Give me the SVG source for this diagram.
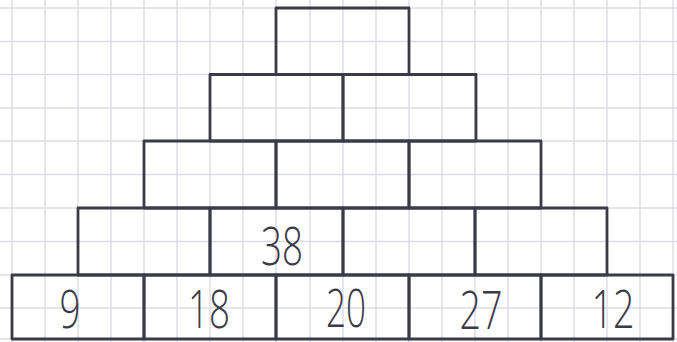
<svg xmlns="http://www.w3.org/2000/svg" width="677" height="342" viewBox="0 0 677 342">
<defs>
<style>
.grid line{stroke:#dcdce4;stroke-width:1.4}
.box rect{fill:none;stroke:#3b3b48;stroke-width:2.8;stroke-linejoin:round}
.num{font-family:"Open Sans","DejaVu Sans","Liberation Sans",sans-serif;font-weight:300;font-size:53px;fill:#3b3b48;text-anchor:middle}
</style>
</defs>
<rect x="0" y="0" width="677" height="342" fill="#ffffff"/>
<g class="grid">
<line x1="12" y1="0" x2="12" y2="342"/><line x1="45" y1="0" x2="45" y2="342"/><line x1="78" y1="0" x2="78" y2="342"/><line x1="111" y1="0" x2="111" y2="342"/><line x1="144" y1="0" x2="144" y2="342"/><line x1="177" y1="0" x2="177" y2="342"/><line x1="210" y1="0" x2="210" y2="342"/><line x1="243" y1="0" x2="243" y2="342"/><line x1="276" y1="0" x2="276" y2="342"/><line x1="310" y1="0" x2="310" y2="342"/><line x1="343" y1="0" x2="343" y2="342"/><line x1="376" y1="0" x2="376" y2="342"/><line x1="409" y1="0" x2="409" y2="342"/><line x1="442" y1="0" x2="442" y2="342"/><line x1="475" y1="0" x2="475" y2="342"/><line x1="508" y1="0" x2="508" y2="342"/><line x1="541" y1="0" x2="541" y2="342"/><line x1="574" y1="0" x2="574" y2="342"/><line x1="607" y1="0" x2="607" y2="342"/><line x1="640" y1="0" x2="640" y2="342"/><line x1="673" y1="0" x2="673" y2="342"/>
<line x1="0" y1="8" x2="677" y2="8"/><line x1="0" y1="41.5" x2="677" y2="41.5"/><line x1="0" y1="74.5" x2="677" y2="74.5"/><line x1="0" y1="108" x2="677" y2="108"/><line x1="0" y1="141" x2="677" y2="141"/><line x1="0" y1="174.5" x2="677" y2="174.5"/><line x1="0" y1="208" x2="677" y2="208"/><line x1="0" y1="241.5" x2="677" y2="241.5"/><line x1="0" y1="275" x2="677" y2="275"/><line x1="0" y1="308" x2="677" y2="308"/><line x1="0" y1="339" x2="677" y2="339"/>
</g>
<g id="r0c0" class="box"><rect x="276" y="8" width="133" height="66.5"/></g>
<g id="r1c0" class="box"><rect x="210" y="74.5" width="133" height="66.5"/></g>
<g id="r1c1" class="box"><rect x="343" y="74.5" width="133" height="66.5"/></g>
<g id="r2c0" class="box"><rect x="144" y="141" width="132" height="67"/></g>
<g id="r2c1" class="box"><rect x="276" y="141" width="133" height="67"/></g>
<g id="r2c2" class="box"><rect x="409" y="141" width="132" height="67"/></g>
<g id="r3c0" class="box"><rect x="78" y="208" width="132" height="67"/></g>
<g id="r3c1" class="box"><rect x="210" y="208" width="133" height="67"/>
<text class="num" x="282" y="265" textLength="42" lengthAdjust="spacingAndGlyphs">38</text></g>
<g id="r3c2" class="box"><rect x="343" y="208" width="132" height="67"/></g>
<g id="r3c3" class="box"><rect x="475" y="208" width="132" height="67"/></g>
<g id="r4c0" class="box"><rect x="12" y="275" width="132" height="64"/>
<text class="num" x="70" y="328" textLength="21" lengthAdjust="spacingAndGlyphs">9</text></g>
<g id="r4c1" class="box"><rect x="144" y="275" width="132" height="64"/>
<text class="num" x="209" y="328" textLength="42" lengthAdjust="spacingAndGlyphs">18</text></g>
<g id="r4c2" class="box"><rect x="276" y="275" width="133" height="64"/>
<text class="num" x="346" y="327" textLength="40" lengthAdjust="spacingAndGlyphs">20</text></g>
<g id="r4c3" class="box"><rect x="409" y="275" width="132" height="64"/>
<text class="num" x="481" y="329" textLength="43" lengthAdjust="spacingAndGlyphs">27</text></g>
<g id="r4c4" class="box"><rect x="541" y="275" width="132" height="64"/>
<text class="num" x="613" y="328" textLength="43" lengthAdjust="spacingAndGlyphs">12</text></g>
</svg>
